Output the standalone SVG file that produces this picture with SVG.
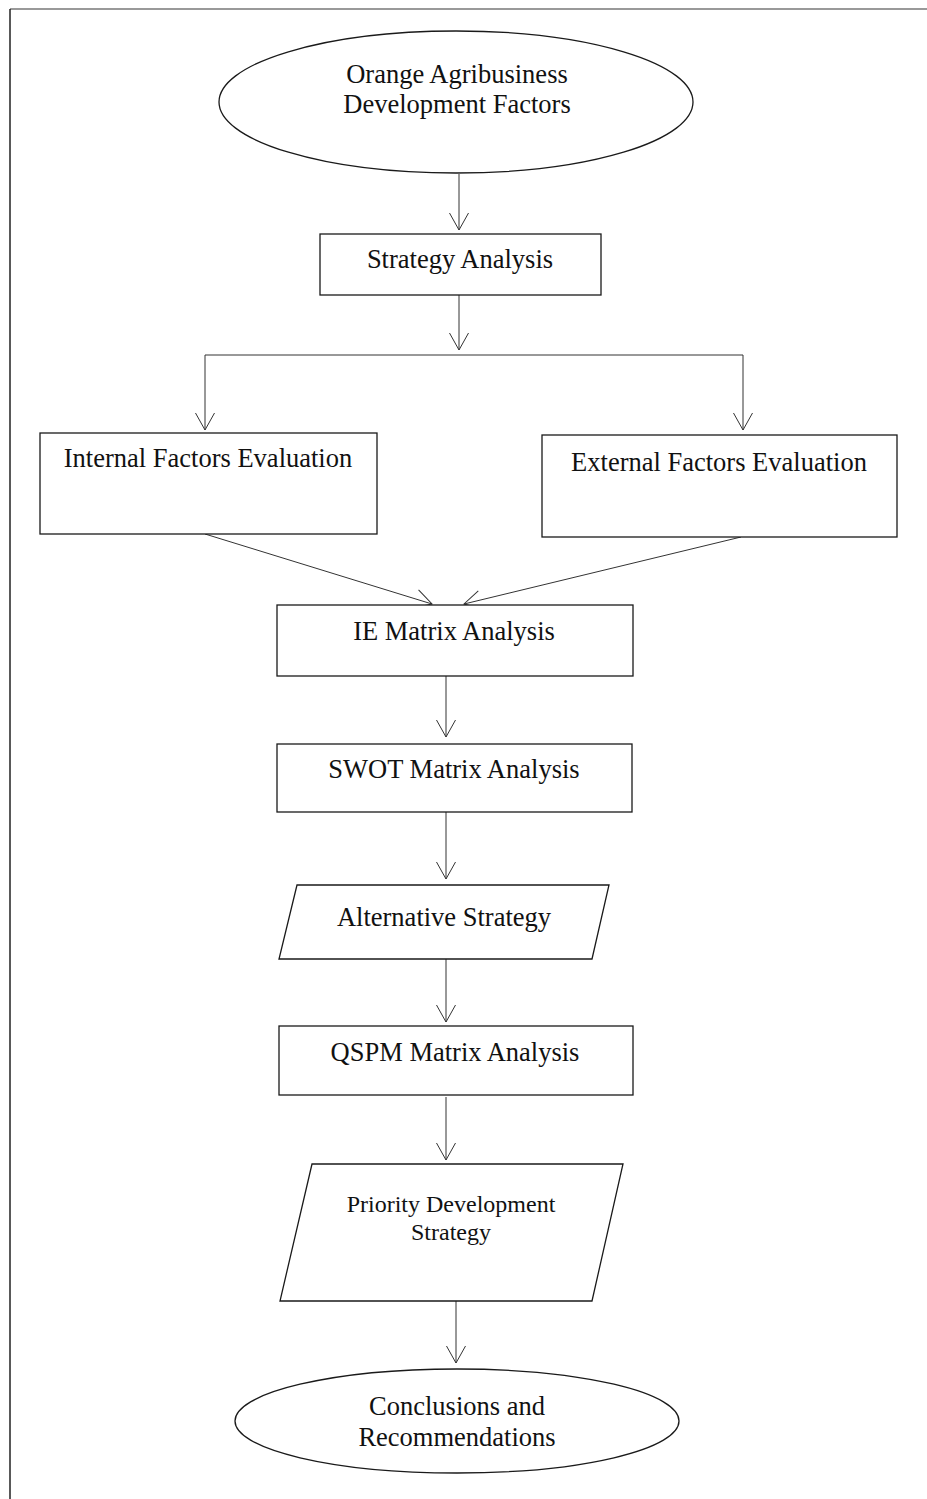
<svg xmlns="http://www.w3.org/2000/svg" width="927" height="1499" viewBox="0 0 927 1499">
<style>
  .shape { fill: #ffffff; stroke: #1a1a1a; stroke-width: 1.3; }
  .conn { fill: none; stroke: #333333; stroke-width: 1; }
  .lbl { font-family: "Liberation Serif", "Times New Roman", serif; font-size: 26.5px; fill: #111111; text-anchor: middle; }
  .lbl-sm { font-family: "Liberation Serif", "Times New Roman", serif; font-size: 24px; fill: #111111; text-anchor: middle; }
</style>
<defs>
  <marker id="arrow" viewBox="-20 -11 22 22" refX="0" refY="0" markerWidth="22" markerHeight="22" markerUnits="userSpaceOnUse" orient="auto" overflow="visible">
    <path d="M -17,-9.5 L 0,0 L -17,9.5" fill="none" stroke="#333333" stroke-width="1"/>
  </marker>
</defs>
<rect width="927" height="1499" fill="#ffffff"/>
<g id="frame">
  <line x1="10" y1="9" x2="927" y2="9" stroke="#777777" stroke-width="1.5"/>
  <line x1="10" y1="9" x2="10" y2="1499" stroke="#222222" stroke-width="1.5"/>
</g>
<g id="connectors">
  <line class="conn" x1="459" y1="174" x2="459" y2="230" marker-end="url(#arrow)"/>
  <line class="conn" x1="459" y1="295" x2="459" y2="350" marker-end="url(#arrow)"/>
  <line class="conn" x1="205" y1="355" x2="743" y2="355"/>
  <line class="conn" x1="205" y1="355" x2="205" y2="430" marker-end="url(#arrow)"/>
  <line class="conn" x1="743" y1="355" x2="743" y2="430" marker-end="url(#arrow)"/>
  <line class="conn" x1="205" y1="534" x2="432" y2="604" marker-end="url(#arrow)"/>
  <line class="conn" x1="741" y1="537" x2="464" y2="604" marker-end="url(#arrow)"/>
  <line class="conn" x1="446" y1="676" x2="446" y2="737" marker-end="url(#arrow)"/>
  <line class="conn" x1="446" y1="812" x2="446" y2="879" marker-end="url(#arrow)"/>
  <line class="conn" x1="446" y1="959" x2="446" y2="1022" marker-end="url(#arrow)"/>
  <line class="conn" x1="446" y1="1097" x2="446" y2="1160" marker-end="url(#arrow)"/>
  <line class="conn" x1="456" y1="1301" x2="456" y2="1363" marker-end="url(#arrow)"/>
</g>
<g id="node-factors">
  <ellipse class="shape" cx="456" cy="102" rx="237" ry="71"/>
  <text class="lbl" x="457" y="83">Orange Agribusiness</text>
  <text class="lbl" x="457" y="113">Development Factors</text>
</g>
<g id="node-strategy">
  <rect class="shape" x="320" y="234" width="281" height="61"/>
  <text class="lbl" x="460" y="268">Strategy Analysis</text>
</g>
<g id="node-internal">
  <rect class="shape" x="40" y="433" width="337" height="101"/>
  <text class="lbl" x="208" y="467">Internal Factors Evaluation</text>
</g>
<g id="node-external">
  <rect class="shape" x="542" y="435" width="355" height="102"/>
  <text class="lbl" x="719" y="471">External Factors Evaluation</text>
</g>
<g id="node-ie">
  <rect class="shape" x="277" y="605" width="356" height="71"/>
  <text class="lbl" x="454" y="640">IE Matrix Analysis</text>
</g>
<g id="node-swot">
  <rect class="shape" x="277" y="744" width="355" height="68"/>
  <text class="lbl" x="454" y="778">SWOT Matrix Analysis</text>
</g>
<g id="node-alternative">
  <polygon class="shape" points="297,885 609,885 592,959 279,959"/>
  <text class="lbl" x="444" y="926">Alternative Strategy</text>
</g>
<g id="node-qspm">
  <rect class="shape" x="279" y="1026" width="354" height="69"/>
  <text class="lbl" x="455" y="1061">QSPM Matrix Analysis</text>
</g>
<g id="node-priority">
  <polygon class="shape" points="312,1164 623,1164 592,1301 280,1301"/>
  <text class="lbl-sm" x="451" y="1212">Priority Development</text>
  <text class="lbl-sm" x="451" y="1240">Strategy</text>
</g>
<g id="node-conclusions">
  <ellipse class="shape" cx="457" cy="1421" rx="222" ry="52"/>
  <text class="lbl" x="457" y="1415">Conclusions and</text>
  <text class="lbl" x="457" y="1446">Recommendations</text>
</g>
</svg>
